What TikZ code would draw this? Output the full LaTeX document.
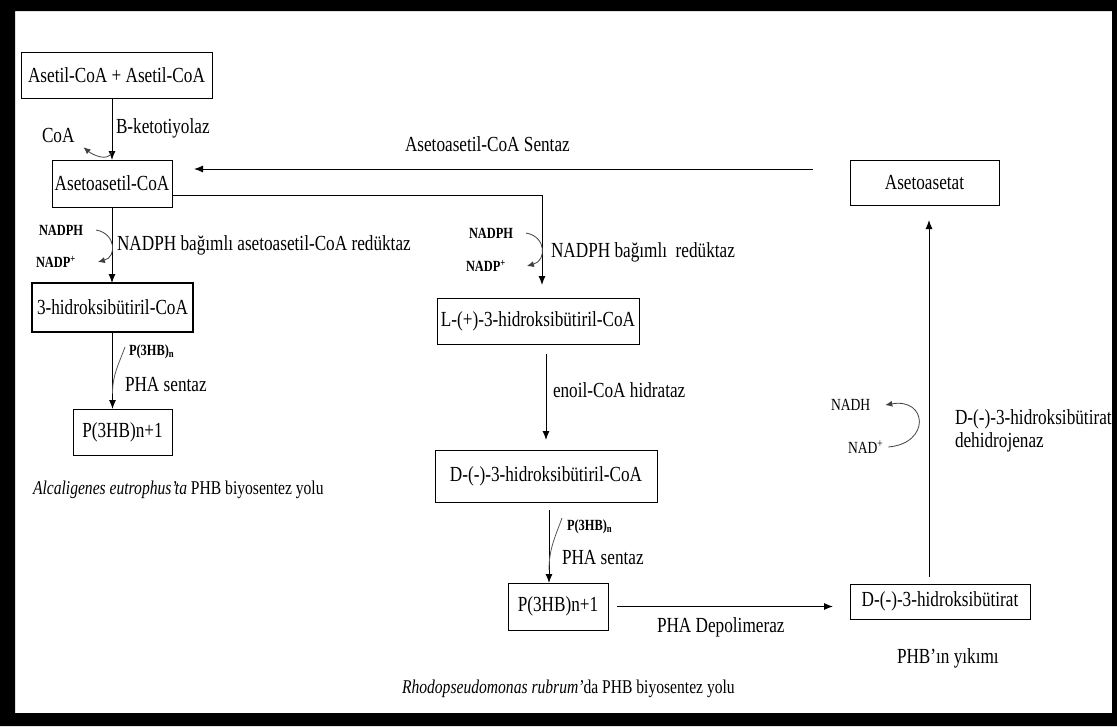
\documentclass[tikz,border=0pt]{standalone}
\usepackage{fontspec}
\setmainfont[FakeStretch=0.8]{Liberation Serif}
\usetikzlibrary{arrows.meta}

\begin{document}
\begin{tikzpicture}[x=1pt,y=1pt,inner sep=0pt,outer sep=0pt,line width=1pt,
>={Latex[length=9pt,width=7pt]},
pathbox/.style={draw,rectangle,line width=1pt,font=\fontsize{21.5}{24}\selectfont},
lbl/.style={anchor=west,font=\fontsize{21.5}{24}\selectfont},
cofac/.style={anchor=west,font=\bfseries\fontsize{15.5}{18}\selectfont},
nadlbl/.style={anchor=west,font=\fontsize{17}{20}\selectfont},
capt/.style={anchor=west,font=\fontsize{19.5}{22}\selectfont},
side/.style={draw=black!75,line width=0.8pt,-{Latex[length=7pt,width=6pt]}},
sidejoin/.style={draw=black!65,line width=0.8pt}]

\useasboundingbox (0,0) rectangle (1117,-726);
\fill[white] (0,0) rectangle (1117,-726);

\draw (116.5,-75) node[pathbox,minimum width=191,minimum height=46] (acetyl) {Asetil-CoA + Asetil-CoA};
\draw (112,-183.5) node[pathbox,minimum width=120,minimum height=47] (aacoa) {Asetoasetil-CoA};
\draw (112.5,-307.5) node[pathbox,line width=2pt,minimum width=161,minimum height=49] (hbcoa) {3-hidroksibütiril-CoA};
\draw (122.5,-432) node[pathbox,minimum width=99,minimum height=46] (phbA) {P(3HB)n+1};
\draw (538,-321) node[pathbox,minimum width=202,minimum height=46] (lcoa) {L-(+)-3-hidroksibütiril-CoA};
\draw (546,-476) node[pathbox,minimum width=222,minimum height=52] (dcoa) {D-(-)-3-hidroksibütiril-CoA};
\draw (558,-606.5) node[pathbox,minimum width=100,minimum height=47] (phbB) {P(3HB)n+1};
\draw (940,-601.5) node[pathbox,minimum width=180,minimum height=35] (dbut) {D-(-)-3-hidroksibütirat};
\draw (924.5,-182.5) node[pathbox,minimum width=149,minimum height=45] (aacet) {Asetoasetat};

\draw (116,-128) node[lbl] (ketot) {B-ketotiyolaz};
\draw (42,-135) node[lbl] (coa) {CoA};
\draw (405,-144) node[lbl] (aasent) {Asetoasetil-CoA Sentaz};
\draw (39,-230) node[cofac] (nadphA) {NADPH};
\draw (36,-262) node[cofac] (nadppA) {NADP\textsuperscript{+}};
\draw (117,-245) node[lbl] (redA) {NADPH bağımlı asetoasetil-CoA redüktaz};
\draw (129,-352) node[cofac] (p3hbA) {P(3HB)\textsubscript{n}};
\draw (125,-385) node[lbl] (phasA) {PHA sentaz};
\draw (33,-490) node[capt] (captA) {\textit{Alcaligenes eutrophus’ta} PHB biyosentez yolu};

\draw (469,-233) node[cofac] (nadphB) {NADPH};
\draw (466,-266) node[cofac] (nadppB) {NADP\textsuperscript{+}};
\draw (551,-252) node[lbl] (redB) {NADPH bağımlı\ \ redüktaz};
\draw (553,-390) node[lbl] (enoil) {enoil-CoA hidrataz};
\draw (567,-527) node[cofac] (p3hbB) {P(3HB)\textsubscript{n}};
\draw (562,-558) node[lbl] (phasB) {PHA sentaz};
\draw (657,-627) node[lbl] (depol) {PHA Depolimeraz};
\draw (402,-689) node[capt] (captB) {\textit{Rhodopseudomonas rubrum’}da PHB biyosentez yolu};

\draw (831,-405) node[nadlbl] (nadh) {NADH};
\draw (848,-447) node[nadlbl] (nadp) {NAD\textsuperscript{+}};
\draw (955,-419) node[lbl] (dehA) {D-(-)-3-hidroksibütirat};
\draw (955,-442) node[lbl] (dehB) {dehidrojenaz};
\draw (897,-658) node[lbl] (yikim) {PHB’ın yıkımı};

\coordinate (sentaz) at (813,-169);

\draw[->] (aacoa.north |- acetyl.south) -- coordinate[pos=0.87] (kA) (aacoa.north);
\draw[side] (kA) to[out=-110,in=-40] ([xshift=9pt,yshift=-5pt]coa.south east);
\draw[->] (aacoa.south) -- (aacoa.south |- hbcoa.north);
\draw[side] ([xshift=13pt]nadphA.east) to[out=-10,in=15,looseness=1.6] ([xshift=22pt]nadppA.east);
\draw[->] (hbcoa.south) -- coordinate[pos=0.8] (jA) (hbcoa.south |- phbA.north);
\draw[sidejoin] ([xshift=-4pt,yshift=5pt]p3hbA.west) to[out=250,in=90] (jA);

\draw[->,shorten >=22pt] (sentaz) -- (sentaz -| aacoa.east);
\draw[->,shorten >=13pt] ([yshift=-11.5pt]aacoa.east) -| ([xshift=4pt]lcoa.north);
\draw[side] ([xshift=13pt]nadphB.east) to[out=-10,in=15,looseness=1.6] ([xshift=21pt]nadppB.east);
\draw[->,shorten <=10pt,shorten >=10pt] (lcoa.south -| dcoa.north) -- (dcoa.north);
\draw[->,shorten <=8pt] ([xshift=3pt]dcoa.south) -- coordinate[pos=0.84] (jB) ([xshift=3pt]dcoa.south |- phbB.north);
\draw[sidejoin] ([xshift=-5pt,yshift=9pt]p3hbB.west) to[out=250,in=90] (jB);

\draw[->,shorten <=9pt,shorten >=17pt] (phbB.east) -- (phbB.east -| dbut.west);
\draw[->,shorten <=7pt,shorten >=15pt] ([xshift=4.5pt]aacet.south |- dbut.north) -- ([xshift=4.5pt]aacet.south);
\draw[side] ([xshift=5pt]nadp.east) to[out=5,in=10,looseness=2.6] ([xshift=15pt]nadh.east);

\fill[black,even odd rule] (0,0) rectangle (1117,-726) (15,-11) rectangle (1112,-713);
\end{tikzpicture}
\end{document}
